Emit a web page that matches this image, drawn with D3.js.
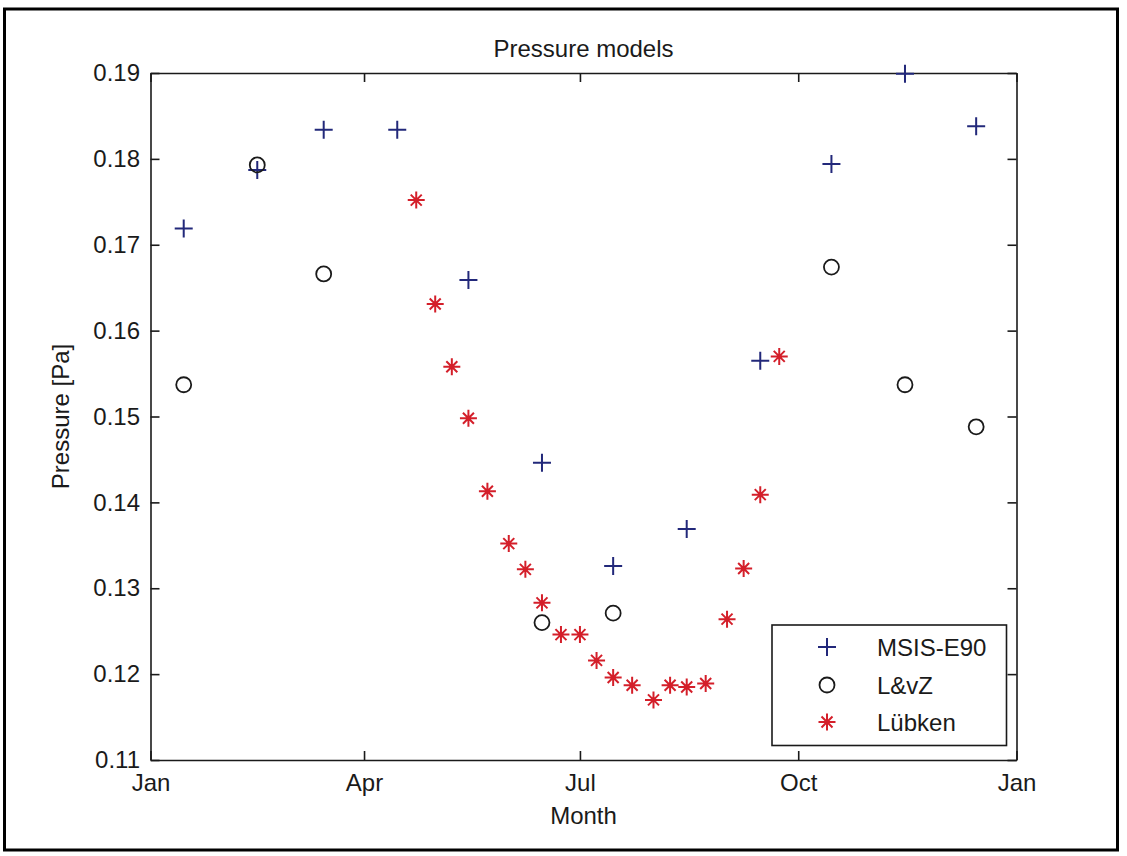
<!DOCTYPE html>
<html><head><meta charset="utf-8">
<script src="https://cdn.jsdelivr.net/npm/d3@7"></script>
<style>
body{margin:0;background:#fff}
svg{display:block}
text{font-family:"Liberation Sans",Arial,Helvetica,sans-serif;fill:#1a1a1a}
</style>
</head><body>
<svg id="chart" width="1127" height="856"></svg>
<script>
// ---- data ----
const msisDates  = ["2001-01-15","2001-02-15","2001-03-15","2001-04-15","2001-05-15","2001-06-15","2001-07-15","2001-08-15","2001-09-15","2001-10-15","2001-11-15","2001-12-15"];
const msisValues = [0.1719,0.1787,0.1834,0.1834,0.1659,0.1446,0.1326,0.1369,0.1565,0.1794,0.1899,0.1838];

const lvzDates  = ["2001-01-15","2001-02-15","2001-03-15","2001-06-15","2001-07-15","2001-10-15","2001-11-15","2001-12-15"];
const lvzValues = [0.1537,0.1793,0.1666,0.1260,0.1271,0.1674,0.1537,0.1488];

const lubkenDates  = ["2001-04-23","2001-05-01","2001-05-08","2001-05-15","2001-05-23","2001-06-01","2001-06-08","2001-06-15","2001-06-23","2001-07-01","2001-07-08","2001-07-15","2001-07-23","2001-08-01","2001-08-08","2001-08-15","2001-08-23","2001-09-01","2001-09-08","2001-09-15","2001-09-23"];
const lubkenValues = [0.1752,0.1631,0.1558,0.1498,0.1413,0.1352,0.1322,0.1283,0.1246,0.1246,0.1216,0.1196,0.1187,0.1170,0.1187,0.1185,0.1189,0.1264,0.1323,0.1409,0.1570];

const xTickDates  = ["2001-01-01","2001-04-01","2001-07-01","2001-10-01","2002-01-01"];
const xTickLabels = ["Jan","Apr","Jul","Oct","Jan"];
const yTicks = [0.11,0.12,0.13,0.14,0.15,0.16,0.17,0.18,0.19];

const seriesNames = ["MSIS-E90","L&vZ","Lübken"];

// ---- layout ----
const parse = d3.timeParse("%Y-%m-%d");
const svg = d3.select("#chart");
const L = 150.5, R = 1016.5, T = 73, B = 760;

const x = d3.scaleTime().domain([parse("2001-01-01"), parse("2002-01-01")]).range([L, R]);
const y = d3.scaleLinear().domain([0.11, 0.19]).range([B, T]);

const axisColor = "#1a1a1a";
const blue = "#22287a", red = "#d41f2a", black = "#1a1a1a";

// figure border
svg.append("rect").attr("x", 0).attr("y", 0).attr("width", 1127).attr("height", 856).attr("fill", "#fff");
svg.append("rect").attr("x", 4.5).attr("y", 9).attr("width", 1113).attr("height", 841)
  .attr("fill", "none").attr("stroke", "#000").attr("stroke-width", 3);

// axes (box with inward ticks on all sides)
const xTicks = xTickDates.map(parse);
const tickLen = 9;
const fmtY = d3.format(".2f");

const gBottom = svg.append("g").attr("transform", `translate(0,${B})`)
  .call(d3.axisBottom(x).tickValues(xTicks).tickSizeInner(-tickLen).tickSizeOuter(0).tickPadding(14)
    .tickFormat((d, i) => xTickLabels[i]));
const gTop = svg.append("g").attr("transform", `translate(0,${T})`)
  .call(d3.axisTop(x).tickValues(xTicks).tickSizeInner(-tickLen).tickSizeOuter(0).tickFormat(""));
const gLeft = svg.append("g").attr("transform", `translate(${L},0)`)
  .call(d3.axisLeft(y).tickValues(yTicks).tickSizeInner(-tickLen).tickSizeOuter(0).tickPadding(10.5).tickFormat(fmtY));
const gRight = svg.append("g").attr("transform", `translate(${R},0)`)
  .call(d3.axisRight(y).tickValues(yTicks).tickSizeInner(-tickLen).tickSizeOuter(0).tickFormat(""));

[gBottom, gTop, gLeft, gRight].forEach(g => {
  g.select(".domain").attr("stroke", axisColor).attr("stroke-width", 1.6);
  g.selectAll(".tick line").attr("stroke", axisColor).attr("stroke-width", 1.6);
  g.selectAll(".tick text").attr("font-size", 24).attr("fill", axisColor)
    .style("font-family", '"Liberation Sans",Arial,sans-serif');
});
gBottom.selectAll(".tick text").attr("dy", "0.71em");
// left tick labels: 0-length inward tick means text offset only depends on padding
gLeft.selectAll(".tick text").attr("x", -10.5);

// titles
svg.append("text").attr("x", (L + R) / 2).attr("y", 57).attr("text-anchor", "middle")
  .attr("font-size", 24).text("Pressure models");
svg.append("text").attr("x", (L + R) / 2).attr("y", 824).attr("text-anchor", "middle")
  .attr("font-size", 24).text("Month");
svg.append("text").attr("transform", `translate(69,${(T + B) / 2}) rotate(-90)`).attr("text-anchor", "middle")
  .attr("font-size", 24).text("Pressure [Pa]");

// marker drawers
function plus(g, color) {
  g.append("path").attr("d", "M-9,0H9M0,-9V9").attr("stroke", color).attr("stroke-width", 2).attr("fill", "none");
}
function circle(g, color) {
  g.append("circle").attr("r", 7.5).attr("stroke", color).attr("stroke-width", 1.8).attr("fill", "none");
}
function star(g, color) {
  g.append("path").attr("d", "M-8.5,0H8.5M0,-8.5V8.5M-5.5,-5.5L5.5,5.5M-5.5,5.5L5.5,-5.5")
    .attr("stroke", color).attr("stroke-width", 2).attr("fill", "none");
  g.append("circle").attr("r", 2.4).attr("fill", color);
}

function drawSeries(dates, values, fn, color) {
  const data = dates.map((d, i) => ({ d: parse(d), v: values[i] }));
  svg.append("g").selectAll("g").data(data).join("g")
    .attr("transform", p => `translate(${x(p.d)},${y(p.v)})`)
    .each(function () { fn(d3.select(this), color); });
}
drawSeries(msisDates, msisValues, plus, blue);
drawSeries(lvzDates, lvzValues, circle, black);
drawSeries(lubkenDates, lubkenValues, star, red);

// legend
const lg = svg.append("g");
lg.append("rect").attr("x", 772).attr("y", 625).attr("width", 234.5).attr("height", 120.5)
  .attr("fill", "#fff").attr("stroke", axisColor).attr("stroke-width", 1.6);
const legendFns = [plus, circle, star];
const legendColors = [blue, black, red];
const rowY = [647, 685, 722];
seriesNames.forEach((name, i) => {
  const g = lg.append("g").attr("transform", `translate(827,${rowY[i]})`);
  legendFns[i](g, legendColors[i]);
  lg.append("text").attr("x", 877).attr("y", rowY[i]).attr("dy", "0.36em")
    .attr("font-size", 24).text(name);
});
</script>
</body></html>
